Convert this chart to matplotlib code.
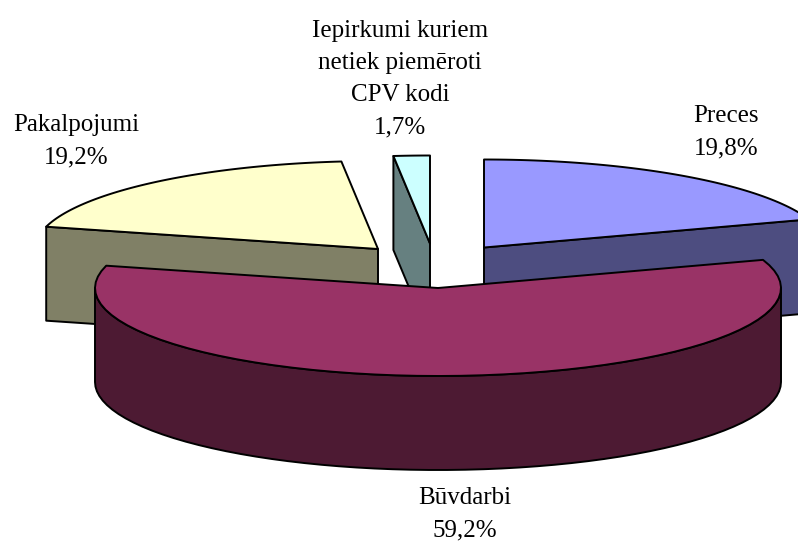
import numpy as np
import matplotlib
matplotlib.use('Agg')
import matplotlib.pyplot as plt
from matplotlib.patches import Polygon

plt.rcParams['font.family'] = ['Liberation Serif', 'DejaVu Serif']

categories = ['Preces', 'Būvdarbi', 'Pakalpojumi', 'Iepirkumi kuriem\nnetiek piemēroti\nCPV kodi']
shares = [19.8, 59.2, 19.2, 1.7]
top_colors = ['#9999FF', '#993366', '#FFFFCC', '#CCFFFF']
side_colors = ['#4D4D80', '#4D1A33', '#808066', '#668080']

# exploded centre of each slice, in pixels
centers = [(484, 247.5), (438, 288), (378, 249), (430, 243.5)]
label_pos = [(726, 132), (465, 514), (76, 141), (400, 79)]
RX, RY, DEPTH = 343, 88, 94

fig = plt.figure(figsize=(7.98, 5.41), dpi=100)
ax = fig.add_axes([0, 0, 1, 1])
ax.set_xlim(0, 798)
ax.set_ylim(541, 0)
ax.axis('off')


def arc(c, a1, a2, n=60):
    # angles clockwise from 12 o'clock, on the squashed ellipse
    t = np.radians(np.linspace(a1, a2, n))
    return np.column_stack([c[0] + RX * np.sin(t), c[1] - RY * np.cos(t)])


def extrude(points):
    low = points[::-1] + [0, DEPTH]
    return np.vstack([points, low])


def add(points, color, z):
    ax.add_patch(Polygon(points, closed=True, facecolor=color, edgecolor='black',
                         linewidth=1.4, joinstyle='round', zorder=z))


# slice angles from the shares
total = sum(shares)
edges = np.cumsum([0] + shares) / total * 360
order = {0: 2, 1: 4, 2: 1, 3: 3}

for i in range(len(shares)):
    c = np.array(centers[i], dtype=float)
    a1, a2 = edges[i], edges[i + 1]
    z = order[i] * 10
    rim = arc(c, a1, a2)
    if i == 1:
        # the big slice shows its curved wall
        add(extrude(arc(c, 90, 270)), side_colors[i], z)
    else:
        # the others show one flat cut face
        face = a2 if a2 < 180 else a1
        add(extrude(np.vstack([arc(c, face, face, 1), [c]])), side_colors[i], z)
    add(np.vstack([[c], rim]), top_colors[i], z + 1)

for i, name in enumerate(categories):
    txt = name + '\n' + ('%.1f%%' % shares[i]).replace('.', ',')
    ax.text(label_pos[i][0], label_pos[i][1], txt, ha='center', va='center',
            fontsize=18, linespacing=1.6, color='black', zorder=50)

fig.savefig('out.png', dpi=100)
